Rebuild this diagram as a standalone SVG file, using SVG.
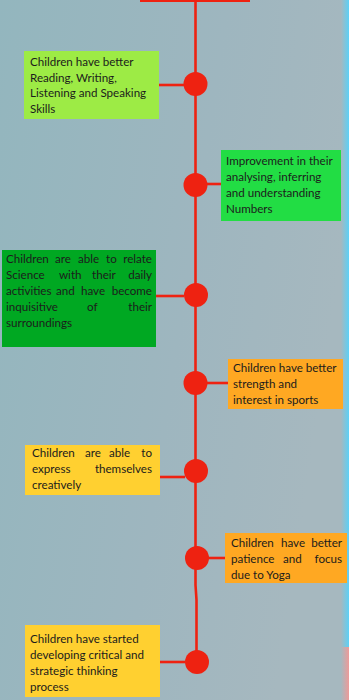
<svg xmlns="http://www.w3.org/2000/svg" width="349" height="700" viewBox="0 0 349 700">
<defs>
<linearGradient id="bg" x1="0" y1="0" x2="1" y2="0.3">
<stop offset="0" stop-color="#93b6be"/>
<stop offset="0.6" stop-color="#9eb6bf"/>
<stop offset="1" stop-color="#a6b8bf"/>
</linearGradient>
<linearGradient id="edge" x1="0" y1="0" x2="1" y2="0">
<stop offset="0" stop-color="#a6b8bf"/>
<stop offset="1" stop-color="#5cd0f6"/>
</linearGradient>
<linearGradient id="edge2" x1="0" y1="0" x2="1" y2="0">
<stop offset="0" stop-color="#a6b8bf"/>
<stop offset="1" stop-color="#ee9a98"/>
</linearGradient>
</defs>
<style>
.ln{stroke:#ee2211;stroke-width:2.6;fill:none}
.dot{fill:#ee2211}
text{font-family:"Lato","Open Sans","Liberation Sans",sans-serif;font-size:11.6px;fill:#1c1c1c}
.g1{fill:#9deb45}.g2{fill:#22dd44}.g3{fill:#00a822}.o{fill:#ffa822}.y{fill:#ffd030}
</style>
<rect width="349" height="700" fill="url(#bg)"/>
<rect x="341" y="0" width="8" height="647" fill="url(#edge)"/>
<rect x="341" y="647" width="8" height="53" fill="url(#edge2)"/>

<g id="connectors">
<rect x="140" y="0" width="110" height="2" fill="#ee2211"/>
<path class="ln" d="M195.5 0 V585 L196.5 600 V662"/>
<path class="ln" d="M159 85 H184"/>
<path class="ln" d="M207 184 H224"/>
<path class="ln" d="M156 296 H184"/>
<path class="ln" d="M207 383 H228"/>
<path class="ln" d="M160 477 H185"/>
<path class="ln" d="M207 558 H225"/>
<path class="ln" d="M160 662 H185"/>
</g>

<g id="node1">
<rect class="g1" x="24" y="51" width="135" height="68"/>
<circle class="dot" cx="195.5" cy="84" r="12"/>
<text x="30" y="66">Children have better</text>
<text x="30" y="82">Reading, Writing,</text>
<text x="30" y="97">Listening and Speaking</text>
<text x="30" y="113">Skills</text>
</g>

<g id="node2">
<rect class="g2" x="221" y="150" width="120" height="71"/>
<circle class="dot" cx="195.5" cy="185" r="12"/>
<text x="226" y="165">Improvement in their</text>
<text x="226" y="181">analysing, inferring</text>
<text x="226" y="197">and understanding</text>
<text x="226" y="213">Numbers</text>
</g>

<g id="node3">
<rect class="g3" x="2" y="250" width="154" height="97"/>
<circle class="dot" cx="196" cy="295" r="12"/>
<text y="263"><tspan x="6">Children</tspan><tspan x="55">are</tspan><tspan x="78">able</tspan><tspan x="106">to</tspan><tspan x="152" text-anchor="end">relate</tspan></text>
<text y="279"><tspan x="6">Science</tspan><tspan x="59">with</tspan><tspan x="92">their</tspan><tspan x="152" text-anchor="end">daily</tspan></text>
<text y="295"><tspan x="6">activities</tspan><tspan x="56">and</tspan><tspan x="81">have</tspan><tspan x="152" text-anchor="end">become</tspan></text>
<text y="311"><tspan x="6">inquisitive</tspan><tspan x="87">of</tspan><tspan x="152" text-anchor="end">their</tspan></text>
<text x="6" y="327">surroundings</text>
</g>

<g id="node4">
<rect class="o" x="228" y="359" width="115" height="50"/>
<circle class="dot" cx="195.5" cy="383" r="12"/>
<text x="233" y="372">Children have better</text>
<text x="233" y="388">strength and</text>
<text x="233" y="404">interest in sports</text>
</g>

<g id="node5">
<rect class="y" x="25" y="445" width="135" height="50"/>
<circle class="dot" cx="196" cy="471" r="12"/>
<text y="457"><tspan x="32">Children</tspan><tspan x="85">are</tspan><tspan x="109">able</tspan><tspan x="152" text-anchor="end">to</tspan></text>
<text y="473"><tspan x="32">express</tspan><tspan x="152" text-anchor="end">themselves</tspan></text>
<text x="32" y="489">creatively</text>
</g>

<g id="node6">
<rect class="o" x="225" y="533" width="122" height="50"/>
<circle class="dot" cx="197" cy="558" r="12"/>
<text y="547"><tspan x="231">Children</tspan><tspan x="281">have</tspan><tspan x="342" text-anchor="end">better</tspan></text>
<text y="563"><tspan x="231">patience</tspan><tspan x="283">and</tspan><tspan x="342" text-anchor="end">focus</tspan></text>
<text x="231" y="579">due to Yoga</text>
</g>

<g id="node7">
<rect class="y" x="25" y="625" width="135" height="72"/>
<circle class="dot" cx="197" cy="662" r="12"/>
<text x="30" y="643">Children have started</text>
<text x="30" y="659">developing critical and</text>
<text x="30" y="675">strategic thinking</text>
<text x="30" y="691">process</text>
</g>
</svg>
